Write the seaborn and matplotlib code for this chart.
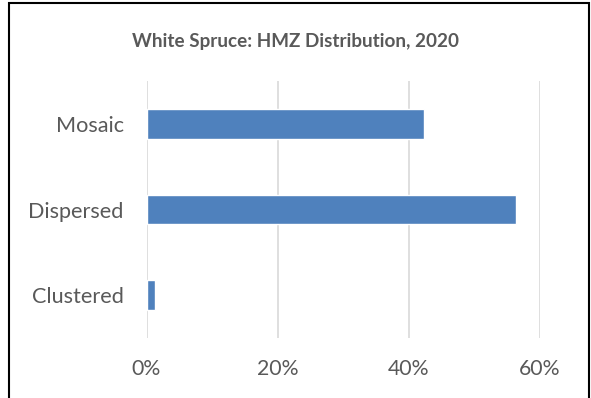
import matplotlib
matplotlib.use("Agg")
import matplotlib.pyplot as plt
import seaborn as sns
import pandas as pd
from matplotlib.patches import Rectangle
from matplotlib.ticker import FuncFormatter

categories = ["Mosaic", "Dispersed", "Clustered"]
values = [42.3, 56.3, 1.3]
xticks = [0, 20, 40, 60]
title = "White Spruce: HMZ Distribution, 2020"

df = pd.DataFrame({"category": categories, "value": values})

sns.set_theme(style="white")
plt.rcParams["font.family"] = ["Lato", "DejaVu Sans"]

fig = plt.figure(figsize=(5.91, 3.98), dpi=100)
ax = fig.add_axes([146.5/591, 1-338/398, (540-146.5)/591, (338-81)/398])

sns.barplot(data=df, y="category", x="value", order=categories, color="#4f81bd",
            width=0.35, saturation=1, ax=ax, orient="h")

ax.set_xlim(0, 60)
ax.set_ylim(2.5, -0.5)
ax.set_xticks(xticks)
ax.xaxis.set_major_formatter(FuncFormatter(lambda v, p: f"{v:.0f}%"))
ax.grid(axis="x", color="#d9d9d9", linewidth=1.2)
ax.set_axisbelow(True)
for s in ax.spines.values():
    s.set_visible(False)
ax.set_xlabel("")
ax.set_ylabel("")
ax.tick_params(axis="x", length=0, pad=15, labelsize=15.3, labelcolor="#595959")
ax.tick_params(axis="y", length=0, pad=16.5, labelsize=15.6, labelcolor="#595959")

fig.text(295.5/591, 1-41/398, title, ha="center", va="center", fontsize=13.6,
         fontweight="bold", color="#595959")

fig.patches.append(Rectangle((9/591, -0.05), (589-9)/591, 1.05 - 2.5/398,
                             transform=fig.transFigure, fill=False,
                             edgecolor="black", linewidth=1.5, clip_on=False))

fig.savefig("out.png", dpi=100)
